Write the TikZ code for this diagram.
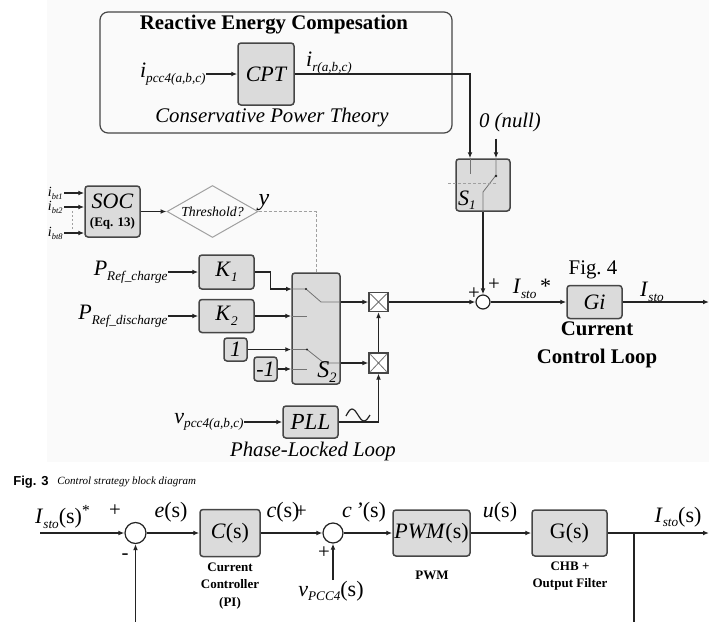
\documentclass[tikz,border=0pt]{standalone}
\usepackage{fontspec}
\setmainfont{Liberation Serif}
\setsansfont{Liberation Sans}
\usepackage{graphicx}
\usetikzlibrary{arrows.meta,shapes.geometric,calc}
\definecolor{ink}{RGB}{35,35,35}
\definecolor{boxfill}{RGB}{219,219,219}
\definecolor{boxline}{RGB}{70,70,70}
\definecolor{thinline}{RGB}{115,115,115}
\definecolor{dashgray}{RGB}{160,160,160}
\definecolor{panelbg}{RGB}{250,250,250}
\newcommand{\sg}[2]{\textit{#1}\raisebox{-0.45ex}{\scalebox{0.6}{\itshape #2}}}
\tikzset{
  blk/.style={draw=boxline, fill=boxfill, line width=0.75pt, rounded corners=1.5pt, inner sep=0pt},
  mult/.style={draw=boxline, fill=white, line width=0.6pt, inner sep=0pt, minimum size=9.5pt},
  summer/.style={circle, draw=ink, fill=white, line width=0.6pt, inner sep=0pt},
  sig/.style={-{Latex[length=3pt,width=2.4pt]}, ink, line width=0.6pt},
  wire/.style={ink, line width=0.6pt},
  swline/.style={thinline, line width=0.4pt},
  lbl/.style={font=\fontsize{11}{13}\selectfont, inner sep=0pt},
  smallbf/.style={font=\fontsize{6.5}{8.75}\selectfont\bfseries, align=center, inner sep=0pt}
}
\begin{document}
\begin{tikzpicture}[x=0.5pt, y=-0.5pt, font=\fontsize{10.4}{12.5}\selectfont]
\useasboundingbox (0,0) rectangle (709,622);
\fill[panelbg] (47,0) rectangle (709,462);
% reactive energy panel
\node[draw=boxline, line width=0.6pt, rounded corners=4pt, minimum width=176pt, minimum height=60.5pt, inner sep=0pt] (reb) at (276,72.5) {};
\node[font=\fontsize{10.4}{12}\selectfont\bfseries] (rebtitle) at (274,25) {Reactive Energy Compesation};
\node[blk, minimum width=28pt, minimum height=31pt, font=\fontsize{11}{13}\selectfont\itshape] (cpt) at (266,74) {CPT};
\node[font=\fontsize{10.4}{12}\selectfont\itshape] (cptcap) at (272,118) {Conservative Power Theory};
\node[lbl, anchor=east] (ipcc) at (206,74) {\sg{i}{pcc4(a,b,c)}};
\draw[sig] (ipcc.east) -- (cpt.west);
\node[lbl] (ir) at (329,63) {\sg{i}{r(a,b,c)}};
% switch S1
\node[blk, minimum width=27pt, minimum height=26pt] (s1) at (483,185) {};
\coordinate (s1in1) at ([xshift=-6.5pt]s1.north);
\coordinate (s1in2) at ([xshift=6.5pt]s1.north);
\draw[sig] (cpt.east) -| (s1in1);
\node[font=\fontsize{10.4}{12}\selectfont\itshape] (nul) at (510,122) {0 (null)};
\draw[sig] (s1in2 |- nul.south) -- (s1in2);
\draw[swline] (s1in1) -- ++(0,16);
\draw[swline] (s1in2) -- ++(0,17) -- (483,192) -- (s1.south);
\fill[ink] (496,176) circle (0.7pt);
\draw[dashgray, line width=0.4pt, dash pattern=on 1.5pt off 1pt] (448,183) -- (498,183);
\node[font=\fontsize{11}{13}\selectfont] (s1lbl) at (467,200) {\sg{S}{1}};
% summing point and current loop
\node[summer, minimum size=7pt] (sum) at (483,302) {};
\draw[sig] (s1.south) -- (sum.north);
\node (pla) at (494,285) {+};
\node (plb) at (474,294) {+};
\node[blk, minimum width=27.5pt, minimum height=16.5pt, font=\fontsize{11}{13}\selectfont\itshape] (gi) at (594.5,302) {Gi};
\draw[sig] (sum.east) -- (gi.west);
\node[lbl] (istar) at (532,289) {\sg{I}{sto}\,*};
\node (fig4) at (593,270) {Fig.\ 4};
\coordinate (giout) at (709,302);
\draw[sig] (gi.east) -- (giout);
\node[lbl] (isto) at (652,292) {\sg{I}{sto}};
\node[font=\fontsize{10.4}{14}\selectfont\bfseries, align=center] (ccl) at (597,345) {Current\\Control Loop};
% state of charge
\node[blk, minimum width=27.5pt, minimum height=25.5pt] (soc) at (112.5,211.5) {};
\node[font=\fontsize{11}{12}\selectfont\itshape, inner sep=0pt] (soctxt) at (112.5,201) {SOC};
\node[font=\fontsize{6.5}{8}\selectfont\bfseries, inner sep=0pt] (soceq) at (112.5,223) {(Eq. 13)};
\foreach \n/\y in {1/193, 2/207, 8/233} {
  \node[font=\fontsize{7}{8}\selectfont, anchor=east, inner sep=0.5pt] (ib\n) at (64,\y) {\sg{i}{bt\n}};
  \draw[sig] (ib\n.east) -- (ib\n.east -| soc.west);
}
\draw[dashgray, line width=0.4pt, dash pattern=on 1pt off 1pt] (72,211) -- (72,229);
\node[diamond, draw=dashgray, line width=0.5pt, aspect=1.75, minimum width=45.5pt, minimum height=26pt, inner sep=0.5pt, font=\fontsize{6.9}{8}\selectfont\itshape] (thr) at (212.5,211.5) {Threshold?};
\draw[sig] (soc.east) -- (thr.west);
\node[font=\fontsize{12}{14}\selectfont\itshape] (ylbl) at (264,203) {y};
\coordinate (ydash) at (316,368);
\draw[dashgray, line width=0.4pt, dash pattern=on 1.5pt off 1pt] (thr.east) -| (ydash);
% gains and switch S2
\node[blk, minimum width=27.5pt, minimum height=17pt, font=\fontsize{11}{13}\selectfont] (k1) at (226.5,272) {\sg{K}{1}};
\node[blk, minimum width=27.5pt, minimum height=16.5pt, font=\fontsize{11}{13}\selectfont] (k2) at (226.5,316) {\sg{K}{2}};
\node[lbl, anchor=east] (prc) at (168,272) {\sg{P}{Ref\_charge}};
\node[lbl, anchor=east] (prd) at (168,316) {\sg{P}{Ref\_discharge}};
\draw[sig] (prc.east) -- (k1.west);
\draw[sig] (prd.east) -- (k2.west);
\node[blk, minimum size=11.5pt, font=\fontsize{11}{13}\selectfont\itshape] (one) at (235.5,349.5) {1};
\node[blk, minimum width=11.5pt, minimum height=12pt, font=\fontsize{11}{13}\selectfont\itshape] (mone) at (265.5,369) {-1};
\node[blk, minimum width=24pt, minimum height=55.5pt] (s2) at (316,328.5) {};
\coordinate (s2in1) at (292,289);
\draw[sig] (k1.east) -- ++(16,0) |- (s2in1);
\draw[sig] (k2.east) -- (k2.east -| s2.west);
\draw[sig] (one.east) -- (one.east -| s2.west);
\draw[sig] (mone.east) -- (mone.east -| s2.west);
\draw[swline] (s2in1) -- (306,289) -- (321,302) -- (340,302);
\draw[swline] (292,316) -- (307,316);
\draw[swline] (292,349.5) -- (307,349.5) -- (324,363) -- (340,363);
\draw[swline] (292,369) -- (307,369);
\fill[ink] (306,289) circle (0.6pt) (307,349.5) circle (0.6pt);
\node[font=\fontsize{12}{14}\selectfont] (s2lbl) at (327,372) {\sg{S}{2}};
% multipliers
\node[mult] (m1) at (378.5,302) {};
\node[mult, minimum height=10pt] (m2) at (378.5,363) {};
\foreach \m in {m1,m2} {
  \draw[swline] ([shift={(1pt,-1pt)}]\m.north west) -- ([shift={(-1pt,1pt)}]\m.south east)
    ([shift={(-1pt,-1pt)}]\m.north east) -- ([shift={(1pt,1pt)}]\m.south west);
}
\draw[sig] (m1.west -| s2.east) -- (m1.west);
\draw[sig] (m2.west -| s2.east) -- (m2.west);
\draw[sig] (m2.north) -- (m1.south);
\draw[sig] (m1.east) -- (sum.west);
% phase-locked loop
\node[blk, minimum width=27.5pt, minimum height=16pt, font=\fontsize{11.5}{13}\selectfont\itshape] (pll) at (310.5,422) {PLL};
\node[lbl, anchor=east] (vpcc) at (244,422) {\sg{v}{pcc4(a,b,c)}};
\draw[sig] (vpcc.east) -- (pll.west);
\draw[sig] (pll.east) -| (m2.south);
\draw[wire] (346,416) sin (352,409) cos (358,415) sin (364,421) cos (370,415);
\node[font=\fontsize{10.4}{12}\selectfont\itshape] (pllcap) at (313,451) {Phase-Locked Loop};
% caption
\node[anchor=west, font=\sffamily\bfseries\fontsize{6.5}{8}\selectfont, inner sep=0pt] (figno) at (13,482) {Fig. 3};
\node[anchor=west, font=\fontsize{5.5}{7}\selectfont\itshape, inner sep=0pt] (figcap) at (57,482) {Control strategy block diagram};
% closed current loop
\node[summer, minimum size=10.5pt] (sum1) at (135.5,533) {};
\coordinate (inB) at (40,533);
\draw[sig] (inB) -- (sum1.west);
\node[lbl] (istoin) at (63,517) {\sg{I}{sto}(s)\textsuperscript{*}};
\node (pl1) at (115,511) {+};
\node (mn1) at (125,557) {-};
\coordinate (fbL) at (135.5,622);
\draw[sig] (fbL) -- (sum1.south);
\node[blk, minimum width=30pt, minimum height=23.5pt, font=\fontsize{11}{13}\selectfont] (cs) at (230,533) {\textit{C}(s)};
\draw[sig] (sum1.east) -- (cs.west);
\node[lbl] (es) at (171,512) {\textit{e}(s)};
\node[smallbf] (cslbl) at (230,586) {Current\\Controller\\(PI)};
\node[summer, minimum size=10pt] (sum2) at (333,533) {};
\draw[sig] (cs.east) -- (sum2.west);
\node[lbl] (csig) at (283,512) {\textit{c}(s)};
\node (pl2) at (301,512) {+};
\node (pl3) at (324,553) {+};
\coordinate (vin) at (333,580);
\draw[sig] (vin) -- (sum2.south);
\node[lbl] (vpccs) at (331,591) {\sg{v}{PCC4}(s)};
\node[blk, minimum width=38.5pt, minimum height=23pt, font=\fontsize{11}{13}\selectfont] (pwm) at (431.5,533) {\textit{PWM}(s)};
\draw[sig] (sum2.east) -- (pwm.west);
\node[lbl] (cps) at (364,512) {\textit{c\,'}(s)};
\node[smallbf] (pwmlbl) at (432,575) {PWM};
\node[blk, minimum width=37.5pt, minimum height=23pt, font=\fontsize{11}{13}\selectfont] (gs) at (569.5,533) {G(s)};
\draw[sig] (pwm.east) -- (gs.west);
\node[lbl] (us) at (500,512) {\textit{u}(s)};
\node[smallbf] (gslbl) at (570,576) {CHB +\\Output Filter};
\coordinate (outB) at (709,533);
\draw[sig] (gs.east) -- (outB);
\node[lbl] (istos) at (678,517) {\sg{I}{sto}(s)};
\coordinate (br) at (634,533);
\coordinate (fbR) at (634,622);
\draw[wire] (br) -- (fbR);
\end{tikzpicture}
\end{document}
